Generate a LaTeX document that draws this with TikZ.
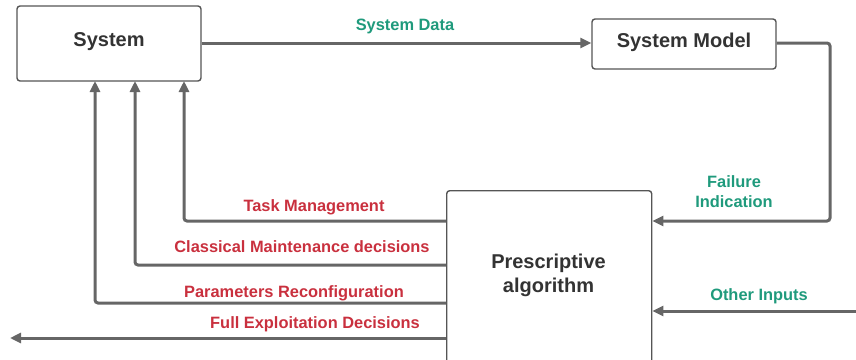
\documentclass[tikz,border=0pt]{standalone}
\usepackage{fontspec}
\setmainfont{Liberation Sans}
\usetikzlibrary{arrows.meta}
\definecolor{linegray}{HTML}{666666}
\definecolor{boxgray}{HTML}{555555}
\definecolor{txtdark}{HTML}{333333}
\definecolor{lblred}{HTML}{C9303E}
\definecolor{lblgreen}{HTML}{1F9A7C}
\tikzset{
  blk/.style={draw=boxgray, line width=1.4pt, rounded corners=3pt, fill=white, inner sep=0pt},
  ttl/.style={font=\fontsize{20}{24}\selectfont\bfseries, text=txtdark, align=center, inner sep=0pt},
  conn/.style={draw=linegray, line width=3pt, rounded corners=3pt, -{Triangle[length=11pt,width=10pt]}},
  redlbl/.style={font=\fontsize{16.4}{20}\selectfont\bfseries, text=lblred, inner sep=0pt},
  grnlbl/.style={font=\fontsize{16.4}{20}\selectfont\bfseries, text=lblgreen, inner sep=0pt, align=center},
}
\begin{document}
\begin{tikzpicture}[x=1pt,y=-1pt]
\useasboundingbox (0,0) rectangle (856,359);
\clip (0,0) rectangle (856,359);
% boxes
\node[blk, minimum width=184pt, minimum height=75pt] (sys) at (109,43.5) {};
\node[ttl] (systxt) at (109,41.5) {System};
\node[blk, minimum width=184pt, minimum height=50pt] (model) at (684,44) {};
\node[ttl] (modeltxt) at (684,42.5) {System Model};
\node[blk, minimum width=205pt, minimum height=200pt, anchor=north west] (pa) at (446,190) {};
\node[ttl, text width=200pt] (patxt) at (548.5,275) {Prescriptive\\algorithm};
% coordinates
\coordinate (c1) at (95,81);
\coordinate (c2) at (135,81);
\coordinate (c3) at (184,81);
\coordinate (fe) at (10,338);
\coordinate (oi) at (856,311);
% connectors
\draw[conn] (sys.east |- 0,43) -- (model.west |- 0,43);
\draw[conn] (model.east |- 0,43) -| (830,221) -- (pa.east |- 0,221);
\draw[conn] (oi) -- (pa.east |- oi);
\draw[conn] (pa.west |- 0,221) -| (c3);
\draw[conn] (pa.west |- 0,265) -| (c2);
\draw[conn] (pa.west |- 0,303) -| (c1);
\draw[conn] (pa.west |- fe) -- (fe);
% labels
\node[grnlbl] (lsd) at (405,26) {System Data};
\node[grnlbl] (lfi) at (734,192) {Failure\\Indication};
\node[grnlbl] (loi) at (759,296.5) {Other Inputs};
\node[redlbl] (ltm) at (314,207) {Task Management};
\node[redlbl] (lcm) at (302,247) {Classical Maintenance decisions};
\node[redlbl] (lpr) at (294,293) {Parameters Reconfiguration};
\node[redlbl] (lfe) at (315,324) {Full Exploitation Decisions};
\end{tikzpicture}
\end{document}
